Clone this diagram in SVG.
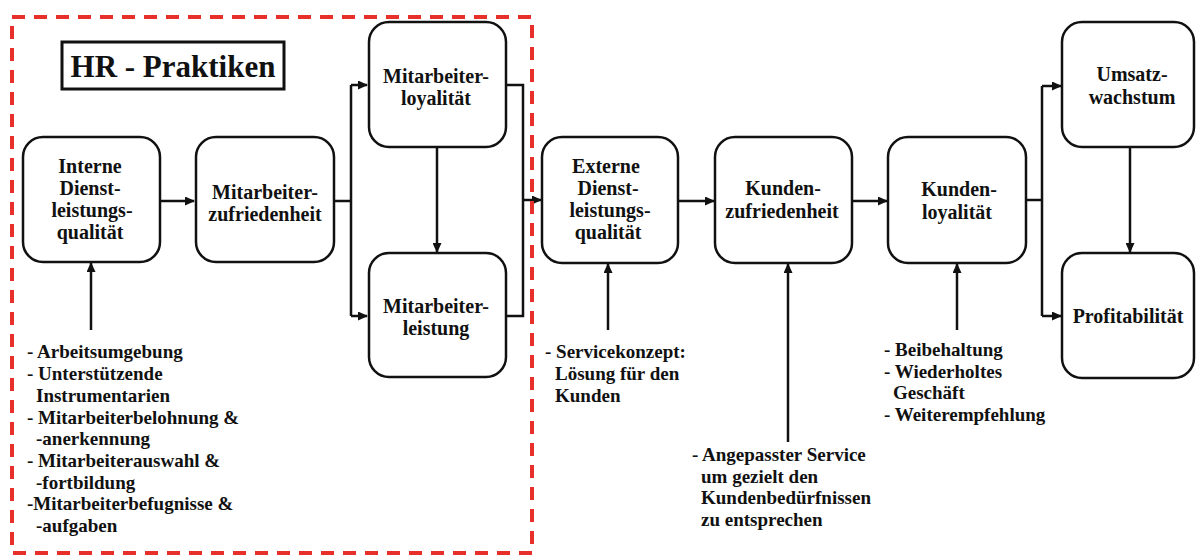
<svg xmlns="http://www.w3.org/2000/svg" width="1196" height="556" viewBox="0 0 1196 556">
<style>
.box{fill:#fff;stroke:#111;stroke-width:2.5}
.t{font-family:"Liberation Serif","Times New Roman",serif;font-weight:bold;font-size:20px;fill:#111;text-anchor:middle}
.l{font-family:"Liberation Serif","Times New Roman",serif;font-weight:bold;font-size:19px;fill:#111}
.c{fill:none;stroke:#111;stroke-width:2.5}
</style>
<defs>
<marker id="ah" markerUnits="userSpaceOnUse" markerWidth="10" markerHeight="9" refX="9" refY="4.5" orient="auto">
<path d="M0,0 L10,4.5 L0,9 z" fill="#111"/>
</marker>
</defs>
<rect width="1196" height="556" fill="#fff"/>
<g id="connectors">
<path class="c" d="M160,201 H194" marker-end="url(#ah)"/>
<path class="c" d="M334,201 H351 M351,85 V316"/>
<path class="c" d="M351,85 H367" marker-end="url(#ah)"/>
<path class="c" d="M351,316 H367" marker-end="url(#ah)"/>
<path class="c" d="M437,147 V252" marker-end="url(#ah)"/>
<path class="c" d="M506,85 H523 V316 H506"/>
<path class="c" d="M523,200 H541" marker-end="url(#ah)"/>
<path class="c" d="M678,201 H714" marker-end="url(#ah)"/>
<path class="c" d="M852,201 H887" marker-end="url(#ah)"/>
<path class="c" d="M1026,200 H1042 M1042,86 V316"/>
<path class="c" d="M1042,86 H1061" marker-end="url(#ah)"/>
<path class="c" d="M1042,316 H1061" marker-end="url(#ah)"/>
<path class="c" d="M1130,147 V252" marker-end="url(#ah)"/>
<path class="c" d="M91,330 V263" marker-end="url(#ah)"/>
<path class="c" d="M608,330 V264" marker-end="url(#ah)"/>
<path class="c" d="M788,442 V264" marker-end="url(#ah)"/>
<path class="c" d="M957,330 V264" marker-end="url(#ah)"/>
</g>
<g id="hr-region">
<rect x="12" y="17" width="520" height="536" fill="none" stroke="#e8302a" stroke-width="4" stroke-dasharray="13 9"/>
<rect x="62" y="42" width="222" height="47" fill="#fff" stroke="#111" stroke-width="3"/>
<text x="173" y="77" class="t" style="font-size:31px">HR - Praktiken</text>
</g>
<g id="interne">
<rect class="box" x="23" y="137" width="137" height="125" rx="20"/>
<text class="t" x="90" y="173">Interne</text>
<text class="t" x="90" y="195">Dienst-</text>
<text class="t" x="92" y="217">leistungs-</text>
<text class="t" x="90" y="239">qualität</text>
</g>
<g id="mzufriedenheit">
<rect class="box" x="196" y="137" width="138" height="125" rx="20"/>
<text class="t" x="265" y="199">Mitarbeiter-</text>
<text class="t" x="265" y="221">zufriedenheit</text>
</g>
<g id="mloyalitaet">
<rect class="box" x="369" y="22" width="137" height="125" rx="20"/>
<text class="t" x="436" y="83">Mitarbeiter-</text>
<text class="t" x="436" y="105">loyalität</text>
</g>
<g id="mleistung">
<rect class="box" x="369" y="253" width="137" height="124" rx="20"/>
<text class="t" x="436" y="313">Mitarbeiter-</text>
<text class="t" x="436" y="335">leistung</text>
</g>
<g id="externe">
<rect class="box" x="542" y="137" width="136" height="126" rx="20"/>
<text class="t" x="606" y="173">Externe</text>
<text class="t" x="608" y="195">Dienst-</text>
<text class="t" x="610" y="217">leistungs-</text>
<text class="t" x="608" y="239">qualität</text>
</g>
<g id="kzufriedenheit">
<rect class="box" x="715" y="137" width="137" height="126" rx="20"/>
<text class="t" x="783" y="195">Kunden-</text>
<text class="t" x="782" y="218">zufriedenheit</text>
</g>
<g id="kloyalitaet">
<rect class="box" x="888" y="137" width="138" height="126" rx="20"/>
<text class="t" x="959" y="196">Kunden-</text>
<text class="t" x="957" y="219">loyalität</text>
</g>
<g id="umsatz">
<rect class="box" x="1062" y="22" width="132" height="125" rx="20"/>
<text class="t" x="1132" y="81">Umsatz-</text>
<text class="t" x="1132" y="104">wachstum</text>
</g>
<g id="profit">
<rect class="box" x="1062" y="253" width="132" height="125" rx="20"/>
<text class="t" x="1128" y="323">Profitabilität</text>
</g>
<g id="hr-list">
<text class="l" x="27" y="358">- Arbeitsumgebung</text>
<text class="l" x="27" y="380">- Unterstützende</text>
<text class="l" x="36" y="402">Instrumentarien</text>
<text class="l" x="27" y="424">- Mitarbeiterbelohnung &amp;</text>
<text class="l" x="36" y="445">-anerkennung</text>
<text class="l" x="27" y="467">- Mitarbeiterauswahl &amp;</text>
<text class="l" x="36" y="489">-fortbildung</text>
<text class="l" x="27" y="510">-Mitarbeiterbefugnisse &amp;</text>
<text class="l" x="36" y="532">-aufgaben</text>
</g>
<g id="service-list">
<text class="l" x="545" y="358">- Servicekonzept:</text>
<text class="l" x="555" y="380">Lösung für den</text>
<text class="l" x="555" y="402">Kunden</text>
</g>
<g id="angepasst-list">
<text class="l" x="692" y="461">- Angepasster Service</text>
<text class="l" x="701" y="483">um gezielt den</text>
<text class="l" x="701" y="504">Kundenbedürfnissen</text>
<text class="l" x="701" y="526">zu entsprechen</text>
</g>
<g id="kunden-list">
<text class="l" x="884" y="356">- Beibehaltung</text>
<text class="l" x="884" y="378">- Wiederholtes</text>
<text class="l" x="893" y="399">Geschäft</text>
<text class="l" x="884" y="421">- Weiterempfehlung</text>
</g>
</svg>
